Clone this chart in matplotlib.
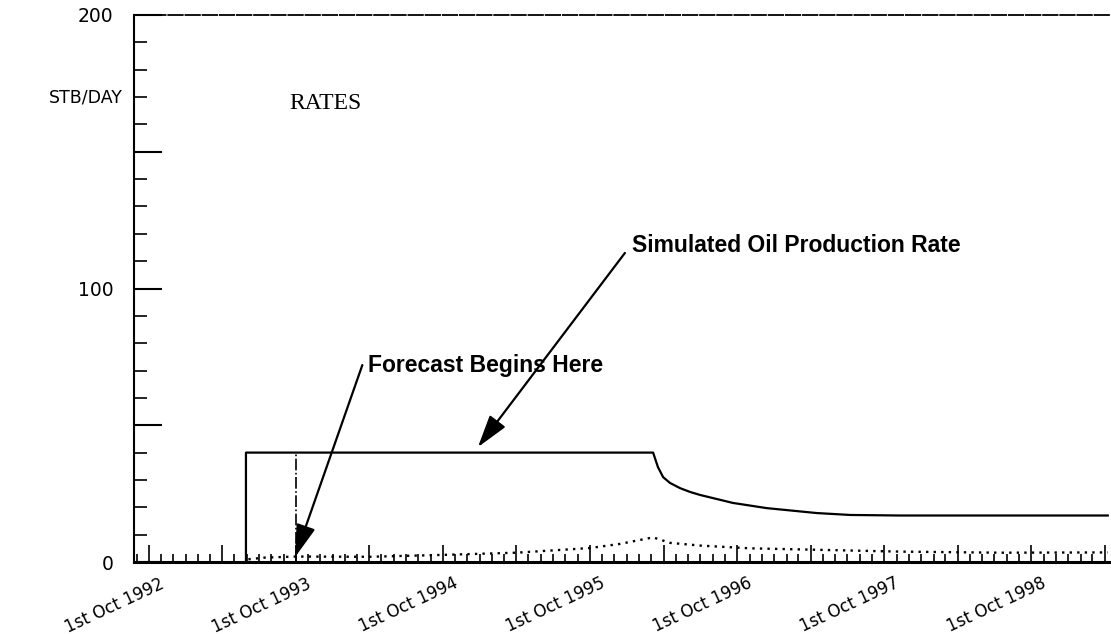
import matplotlib
matplotlib.use("Agg")
import matplotlib.pyplot as plt
import matplotlib.dates as mdates
import matplotlib.transforms as mtransforms
from matplotlib.ticker import FixedLocator, FuncFormatter
import numpy as np

# Simulated oil production rate (STB/DAY)
oil_dates = ['1993-05-30', '1993-05-30', '1996-03-06', '1996-03-18', '1996-03-31',
             '1996-04-17', '1996-05-12', '1996-06-06', '1996-07-01', '1996-09-20',
             '1996-12-13', '1997-04-16', '1997-07-08', '1997-11-09', '1999-04-09']
oil_rate = [0, 40, 40, 34.7, 31, 28.9, 27, 25.6, 24.5, 21.6, 19.7, 17.9, 17.2, 17.0, 17.0]

# Lower dotted rate curve
low_dates = ['1993-06-05', '1993-07-15', '1993-10-01', '1994-04-01', '1994-10-01',
             '1995-04-01', '1995-10-01', '1995-12-14', '1996-03-06', '1996-04-17',
             '1996-07-01', '1996-11-02', '1997-03-06', '1997-11-09', '1998-07-15',
             '1999-04-09']
low_rate = [1.0, 1.6, 2.0, 1.9, 2.6, 3.4, 5.1, 6.6, 9.0, 7.0, 6.0, 5.0, 4.6, 3.8, 3.4, 3.5]

# Forecast start marker
forecast_date = '1993-10-01'
forecast_top = 40

x_start, x_end = '1992-08-25', '1999-04-17'
y_ticks = [0, 50, 100, 150, 200]
y_ticklabels = ['0', '', '100', '', '200']

oil_x = mdates.datestr2num(oil_dates)
low_x = mdates.datestr2num(low_dates)

fig = plt.figure(figsize=(11.11, 6.34), dpi=100)
ax = fig.add_axes([134 / 1111, 72 / 634, 977 / 1111, 547 / 634])

ax.plot(oil_x, oil_rate, color='black', lw=1.6)
ax.plot(low_x, low_rate, color='black', lw=1.7, linestyle=(0, (1.0, 2.2)))
ax.vlines(mdates.datestr2num(forecast_date), 0, forecast_top, color='black',
          lw=1.2, linestyles=[(0, (7, 1.5, 1, 1.5))])

ax.set_xlim(mdates.datestr2num(x_start), mdates.datestr2num(x_end))
ax.set_ylim(0, 200)

# spines
ax.spines['right'].set_visible(False)
ax.spines['top'].set_linestyle((0, (8, 1.5)))
ax.spines['top'].set_linewidth(1.3)
ax.spines['bottom'].set_linewidth(2.2)
ax.spines['left'].set_linewidth(1.5)

# y ticks
ax.yaxis.set_major_locator(FixedLocator(y_ticks))
ax.set_yticklabels(y_ticklabels)
ax.yaxis.set_minor_locator(FixedLocator([v for v in range(0, 201, 10) if v % 50]))
ax.tick_params(axis='y', which='major', direction='in', length=20, width=1.5,
               pad=15, labelsize=13.5)
ax.tick_params(axis='y', which='minor', direction='in', length=9, width=1.2)
ax.text(-0.012, 170, 'STB/DAY', transform=mtransforms.blended_transform_factory(
    ax.transAxes, ax.transData), ha='right', va='center', fontsize=12.5)

# x ticks
ax.xaxis.set_major_locator(mdates.MonthLocator(bymonth=[4, 10], bymonthday=1))
ax.xaxis.set_major_formatter(FuncFormatter(
    lambda v, p: mdates.num2date(v).strftime('1st Oct %Y') if mdates.num2date(v).month == 10 else ''))
ax.xaxis.set_minor_locator(mdates.MonthLocator(bymonthday=1))
ax.tick_params(axis='x', which='major', direction='in', length=12, width=1.2,
               pad=9, labelsize=12)
ax.tick_params(axis='x', which='minor', direction='in', length=6, width=1.2)
offset = mtransforms.ScaledTranslation(10 / 100, 0, fig.dpi_scale_trans)
for lbl in ax.get_xticklabels():
    lbl.set_rotation(25)
    lbl.set_rotation_mode('anchor')
    lbl.set_ha('right')
    lbl.set_va('top')
    lbl.set_transform(lbl.get_transform() + offset)

# titles and annotations
ax.text(0.159, 0.839, 'RATES', transform=ax.transAxes, ha='left', va='center',
        fontsize=17, family='Liberation Serif')

arrow = dict(arrowstyle='-|>,head_length=2.0,head_width=0.6', color='black',
             lw=1.6, shrinkA=0, shrinkB=0)
ax.annotate('', xy=(mdates.datestr2num('1994-12-27'), 42),
            xytext=(mdates.datestr2num('1995-12-27'), 113), arrowprops=arrow)
ax.annotate('', xy=(mdates.datestr2num('1993-09-29'), 1.8),
            xytext=(mdates.datestr2num('1994-03-15'), 72), arrowprops=arrow)
ax.text(0.5097, 0.5795, 'Simulated Oil Production Rate', transform=ax.transAxes,
        ha='left', va='center', fontsize=16.5, fontweight='bold',
        family=['Liberation Sans Narrow', 'Liberation Sans'])
ax.text(0.2395, 0.360, 'Forecast Begins Here', transform=ax.transAxes,
        ha='left', va='center', fontsize=16.5, fontweight='bold',
        family=['Liberation Sans Narrow', 'Liberation Sans'])

fig.savefig('out.png', dpi=100, facecolor='white')
